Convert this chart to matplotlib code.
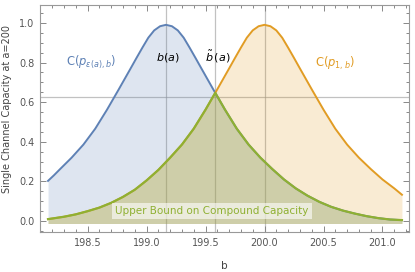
import numpy as np
import matplotlib
matplotlib.use('Agg')
import matplotlib.pyplot as plt
from matplotlib.ticker import MultipleLocator

# values
blue_b = [198.165, 198.215, 198.265, 198.365, 198.465, 198.565, 198.665, 198.765, 198.865,
          198.915, 198.965, 199.015, 199.065, 199.115, 199.165, 199.215, 199.265,
          199.315, 199.365, 199.415, 199.465, 199.565, 199.665, 199.765, 199.865,
          199.965, 200.065, 200.165, 200.265, 200.365, 200.465, 200.565, 200.665,
          200.765, 200.865, 200.965, 201.065, 201.165]
blue_c = [0.203, 0.231, 0.261, 0.320, 0.386, 0.466, 0.562, 0.665, 0.770,
          0.823, 0.875, 0.925, 0.962, 0.983, 0.990, 0.983, 0.962,
          0.925, 0.875, 0.823, 0.770, 0.665, 0.562, 0.466, 0.386,
          0.320, 0.263, 0.210, 0.165, 0.128, 0.097, 0.072, 0.053,
          0.038, 0.025, 0.015, 0.008, 0.005]

orange_b = [198.165, 198.2, 198.3, 198.4, 198.5, 198.6, 198.7, 198.8, 198.9,
            199.0, 199.1, 199.2, 199.3, 199.4, 199.5, 199.6, 199.7, 199.75,
            199.8, 199.85, 199.9, 199.95, 200.0, 200.05, 200.1, 200.15, 200.2,
            200.25, 200.3, 200.4, 200.5, 200.6, 200.7, 200.8, 200.9, 201.0,
            201.1, 201.165]
orange_c = [0.010, 0.013, 0.022, 0.034, 0.050, 0.068, 0.092, 0.122, 0.158,
            0.205, 0.258, 0.320, 0.386, 0.466, 0.562, 0.665, 0.770, 0.823,
            0.875, 0.925, 0.962, 0.983, 0.990, 0.983, 0.962, 0.925, 0.875,
            0.823, 0.770, 0.665, 0.562, 0.466, 0.386, 0.320, 0.263, 0.210,
            0.165, 0.133]

b_a = 199.165        # b(a)
b_tilde = 199.5825   # b~(a)
c_tilde = 0.647      # where the two curves cross
h_line = 0.625
b_peak1 = 200.0

blue_b = np.array(blue_b)
blue_c = np.array(blue_c)
orange_b = np.array(orange_b)
orange_c = np.array(orange_c)

# lower envelope: orange left of the crossing, blue right of it
left = orange_b < b_tilde
right = blue_b > b_tilde
green_b = np.concatenate([orange_b[left], [b_tilde], blue_b[right]])
green_c = np.concatenate([orange_c[left], [c_tilde], blue_c[right]])

c_blue = '#5E81B5'
c_orange = '#E19C24'
c_green = '#8FB032'
base = -0.012

fig = plt.figure(figsize=(4.15, 2.72), dpi=100)
ax = fig.add_axes([0.0964, 0.147, 0.8898, 0.8346])

for xv in [b_a, b_tilde, b_peak1]:
    ax.axvline(xv, color='#999999', lw=0.9, alpha=0.6, zorder=0.5)
ax.axhline(h_line, color='#999999', lw=0.9, alpha=0.6, zorder=0.5)

ax.fill_between(blue_b, blue_c, base, color=c_blue, alpha=0.2, lw=0, zorder=1)
ax.fill_between(orange_b, orange_c, base, color=c_orange, alpha=0.2, lw=0, zorder=1)
ax.fill_between(green_b, green_c, base, color=c_green, alpha=0.2, lw=0, zorder=1)

ax.plot(blue_b, blue_c, color=c_blue, lw=1.4, zorder=3)
ax.plot(orange_b, orange_c, color=c_orange, lw=1.4, zorder=3)
ax.plot(green_b, green_c, color=c_green, lw=1.6, zorder=4)

ax.text(198.53, 0.8, r'C$(p_{\epsilon(a),b})$', color=c_blue, fontsize=8.3,
        ha='center', va='center')
ax.text(200.6, 0.795, r'C$(p_{1,b})$', color=c_orange, fontsize=8.3,
        ha='center', va='center')
ax.text(199.18, 0.825, r'$b(a)$', color='black', fontsize=8, ha='center', va='center')
ax.text(199.6, 0.83, r'$\tilde{b}\,(a)$', color='black', fontsize=8,
        ha='center', va='center')
ax.text(199.553, 0.05, 'Upper Bound on Compound Capacity', color=c_green,
        fontsize=7.5, ha='center', va='center', zorder=5,
        bbox=dict(boxstyle='square,pad=0.3', facecolor='white', alpha=0.6,
                  edgecolor='none'))

ax.set_xlim(198.097, 201.227)
ax.set_ylim(-0.055, 1.09)
ax.xaxis.set_major_locator(MultipleLocator(0.5))
ax.xaxis.set_minor_locator(MultipleLocator(0.1))
ax.yaxis.set_major_locator(MultipleLocator(0.2))
ax.yaxis.set_minor_locator(MultipleLocator(0.05))
ax.set_xticks([198.5, 199.0, 199.5, 200.0, 200.5, 201.0])
ax.set_xticklabels(['198.5', '199.0', '199.5', '200.0', '200.5', '201.0'])
ax.set_yticks([0.0, 0.2, 0.4, 0.6, 0.8, 1.0])
ax.set_yticklabels(['0.0', '0.2', '0.4', '0.6', '0.8', '1.0'])
ax.tick_params(which='both', direction='in', top=True, right=True,
               colors='#888888', labelcolor='#555555', labelsize=7, width=0.7)
ax.tick_params(which='major', length=4, pad=4)
ax.tick_params(which='minor', length=2)
for s in ax.spines.values():
    s.set_color('#999999')
    s.set_linewidth(0.8)

ax.set_xlabel('b', fontsize=7.5, color='#444444', labelpad=10)
ax.set_ylabel('Single Channel Capacity at a=200', fontsize=7, color='#444444')
ax.yaxis.set_label_coords(-0.075, 0.54)

fig.savefig('out.png', dpi=100)
